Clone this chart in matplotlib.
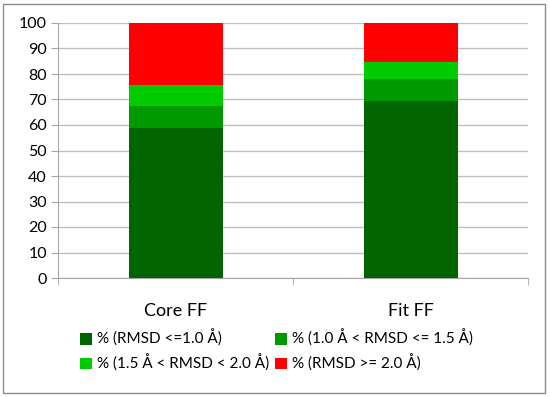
import matplotlib
matplotlib.use('Agg')
import matplotlib.pyplot as plt
from matplotlib.patches import Rectangle
import numpy as np

plt.rcParams['font.family'] = ['Lato', 'DejaVu Sans']

categories = ['Core FF', 'Fit FF']
series_labels = ['% (RMSD <=1.0 Å)', '% (1.0 Å < RMSD <= 1.5 Å)',
                 '% (1.5 Å < RMSD < 2.0 Å)', '% (RMSD >= 2.0 Å)']
rmsd_le_10 = [59.0, 69.4]
rmsd_10_15 = [8.5, 8.6]
rmsd_15_20 = [8.1, 6.7]
rmsd_ge_20 = [24.4, 15.3]
colors = ['#006400', '#009900', '#00cc00', '#ff0000']

fig = plt.figure(figsize=(5.5, 3.97), dpi=100)
ax = fig.add_axes([58 / 550, 1 - 278 / 397, 470 / 550, 255 / 397])

x = np.arange(len(categories))
bottom = np.zeros(len(categories))
handles = []
for vals, col, lab in zip([rmsd_le_10, rmsd_10_15, rmsd_15_20, rmsd_ge_20],
                          colors, series_labels):
    b = ax.bar(x, vals, width=0.4, bottom=bottom, color=col, label=lab, zorder=3)
    handles.append(b)
    bottom += np.array(vals)

ax.set_xlim(-0.5, 1.5)
ax.set_ylim(0, 100)
ax.set_yticks(range(0, 101, 10))
ax.set_xticks(x)
ax.set_xticklabels(categories, fontsize=13)
ax.set_xticks([-0.5, 0.5, 1.5], minor=True)
ax.tick_params(axis='x', which='major', length=0, pad=18)
ax.tick_params(axis='x', which='minor', length=5, color='#a6a6a6', direction='out')
ax.tick_params(axis='y', length=5, color='#a6a6a6', labelsize=11.5, pad=3)
ax.grid(axis='y', color='#bfbfbf', linewidth=1, zorder=0)
for s in ['top', 'right']:
    ax.spines[s].set_visible(False)
for s in ['left', 'bottom']:
    ax.spines[s].set_color('#a6a6a6')

# row-major order like the original
order = [0, 2, 1, 3]
fig.legend(handles=[handles[i] for i in order], ncol=2, loc='upper left',
           bbox_to_anchor=(66 / 550, 1 - 316 / 397),
           frameon=False, fontsize=11, handlelength=0.8, handleheight=0.8,
           handletextpad=0.3, columnspacing=0.4, labelspacing=0.5)

fig.patches.append(Rectangle((3 / 550, 4 / 397), 542 / 550, 389 / 397, transform=fig.transFigure,
                             fill=False, edgecolor='#8c8c8c', linewidth=1))

fig.savefig('out.png', dpi=100)
